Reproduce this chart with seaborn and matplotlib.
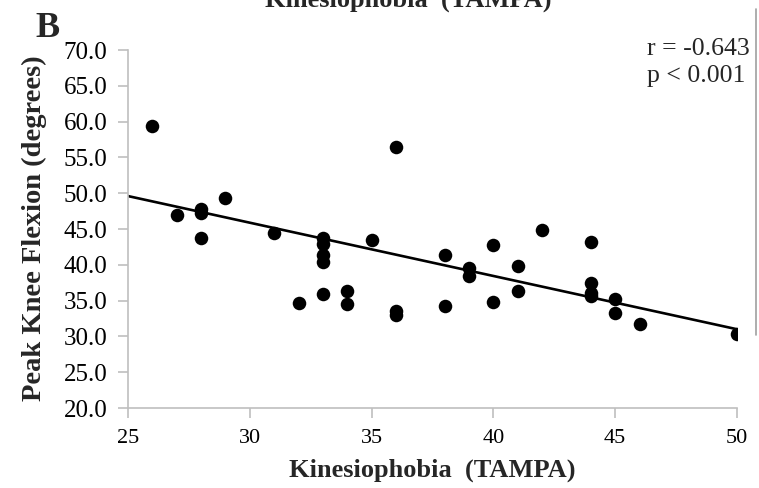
import matplotlib
matplotlib.use("Agg")
import matplotlib.pyplot as plt
from matplotlib.lines import Line2D
import seaborn as sns
import pandas as pd

# Data
tampa = [26, 27, 28, 28, 28, 29, 31, 32, 33, 33, 33, 33, 33, 34, 34, 35, 36, 36, 36,
         38, 38, 39, 39, 40, 40, 41, 41, 42, 44, 44, 44, 44, 45, 45, 46, 50]
flexion = [59.4, 47.0, 47.8, 47.2, 43.8, 49.3, 44.4, 34.6, 43.7, 42.9, 41.4, 40.4, 35.9,
           36.3, 34.5, 43.5, 56.4, 33.5, 33.0, 41.3, 34.3, 39.5, 38.4, 42.8, 34.8, 39.9,
           36.4, 44.9, 43.2, 37.4, 36.1, 35.7, 35.2, 33.3, 31.7, 30.3]
# trend line as drawn in the reference (end points)
trend_x = [25, 50]
trend_y = [49.6, 31.0]
x_ticks = [25, 30, 35, 40, 45, 50]
y_ticks = [20, 25, 30, 35, 40, 45, 50, 55, 60, 65, 70]
y_tick_labels = [f"{v:.1f}" for v in y_ticks]
stats_text = "r = -0.643\np < 0.001"

sns.set_theme(style="white")
plt.rcParams['font.family'] = ['Liberation Serif', 'DejaVu Sans']

W, H = 759, 488
fig = plt.figure(figsize=(W / 100, H / 100), dpi=100)
fig.patch.set_facecolor('white')
ax = fig.add_axes([128 / W, 1 - 408 / H, (737 - 128) / W, (408 - 50) / H])
ax.set_xlim(25, 50)
ax.set_ylim(20, 70)

df = pd.DataFrame({"tampa": tampa, "flexion": flexion})
trend = pd.DataFrame({"x": trend_x, "y": trend_y})
sns.lineplot(data=trend, x="x", y="y", ax=ax, color="black", lw=1.9)
sns.scatterplot(data=df, x="tampa", y="flexion", ax=ax, s=95, color="black",
                linewidth=0, zorder=3)
ax.set_xlim(25, 50)
ax.set_ylim(20, 70)

ax.set_xticks(x_ticks)
ax.set_xticklabels([str(v) for v in x_ticks], fontsize=16)
ax.set_yticks(y_ticks)
ax.set_yticklabels(y_tick_labels, fontsize=18)

grey = "#bfbfbf"
for s in ["top", "right"]:
    ax.spines[s].set_visible(False)
for s in ["left", "bottom"]:
    ax.spines[s].set_color(grey)
    ax.spines[s].set_linewidth(1.2)
ax.tick_params(axis="both", which="major", bottom=True, left=True, direction="out",
               length=7, width=1.2, color=grey, labelcolor="black")
ax.tick_params(axis="y", pad=8)
ax.tick_params(axis="x", pad=8)

ax.set_xlabel("Kinesiophobia  (TAMPA)", fontsize=19, fontweight="bold")
ax.set_ylabel("Peak Knee Flexion (degrees)", fontsize=20.5, fontweight="bold")
ax.xaxis.set_label_coords(0.5, (408 - 459) / 358)
ax.yaxis.set_label_coords((47 - 128) / 609, (408 - 228) / 358)

fig.text(647 / W, 1 - 38 / H, stats_text, fontsize=18.5, va="top", ha="left",
         linespacing=1.3)

fig.text(408 / W, 1 - 7 / H, "Kinesiophobia  (TAMPA)", fontsize=19, fontweight="bold",
         ha="center", va="baseline")
fig.text(35 / W, 1 - 37 / H, "B", fontsize=26, fontweight="bold", ha="left", va="baseline")

fig.add_artist(Line2D([756 / W, 756 / W], [1 - 9 / H, 1 - 335 / H], color="#a0a0a0",
                      lw=1.2, transform=fig.transFigure))

fig.savefig("out.png", dpi=100, facecolor="white")
